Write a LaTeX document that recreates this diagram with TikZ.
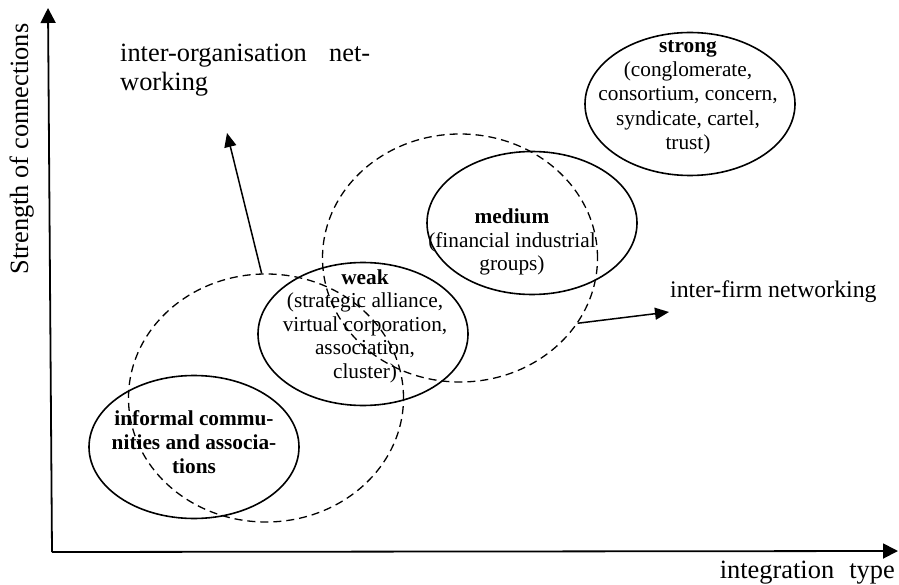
\documentclass[tikz,border=0pt]{standalone}
\usepackage{fontspec}
\setmainfont{Liberation Serif}
\usetikzlibrary{arrows.meta,shapes.geometric}
\tikzset{
  form/.style  ={ellipse, draw=black, line width=1.6pt, inner sep=0pt,
                 minimum width=210pt, minimum height=143pt},
  zone/.style  ={ellipse, draw=black, line width=1.3pt, inner sep=0pt,
                 dash pattern=on 8pt off 5pt,
                 minimum width=275pt, minimum height=248pt},
  txt/.style   ={align=center, inner sep=0pt, font=\fontsize{21.3}{23.5}\selectfont},
  lbl/.style   ={inner sep=0pt, font=\fontsize{26.4}{29}\selectfont},
  axis/.style  ={-{Triangle[length=15pt,width=15pt]}, line width=1.8pt},
  arr/.style   ={-{Triangle[length=14pt,width=12pt]}, line width=1.5pt},
}

\begin{document}
\begin{tikzpicture}[x=1pt, y=-1pt]
  \useasboundingbox (0,0) rectangle (899,585);

  % axes
  \coordinate (origin) at (52,552);
  \coordinate (ytop) at (48,8);
  \coordinate (xend) at (898,551);
  \draw[axis] (origin) -- (ytop);
  \draw[axis] (origin) -- (xend);
  \node[lbl, rotate=90, anchor=base] (ylab) at (28,149) {Strength of connections};
  \node[lbl, anchor=base east] (xlab) at (895,578)
       {\makebox[175pt][s]{integration type}};

  % networking zones (dashed)
  \node[zone] (orgzone) at (266,398) {};
  \node[zone] (firmzone) at (460,258) {};

  % integration forms
  \node[form] (informal) at (194,447) {};
  \node[form] (weak) at (363,334) {};
  \node[form] (medium) at (532,223) {};
  \node[form] (strong) at (690,104) {};

  \node[txt, font=\bfseries\fontsize{21.3}{24}\selectfont] (informaltxt) at (194,442)
       {informal commu-\\nities and associa-\\tions};
  \node[txt] (weaktxt) at (365,326)
       {\textbf{weak}\\(strategic alliance,\\virtual corporation,\\association,\\cluster)};
  \node[txt] (mediumtxt) at (512,242)
       {\textbf{medium}\\(financial industrial\\groups)};
  \node[txt, font=\fontsize{21.3}{24.3}\selectfont] (strongtxt) at (688,97)
       {\textbf{strong}\\(conglomerate,\\consortium, concern,\\syndicate, cartel,\\trust)};

  % directions of networking
  \coordinate (orgtip) at (227,133);
  \coordinate (firmtip) at (669,312);
  \draw[arr] (orgzone.92) -- (orgtip);
  \draw[arr] (firmzone.-29) -- (firmtip);
  \node[lbl, anchor=north west, align=left] (orglab) at (120,44)
       {\makebox[250pt][s]{inter-organisation net-}\\working};
  \node[lbl, anchor=base west, font=\fontsize{23.8}{28}\selectfont] (firmlab)
       at (670,298) {inter-firm networking};
\end{tikzpicture}
\end{document}
